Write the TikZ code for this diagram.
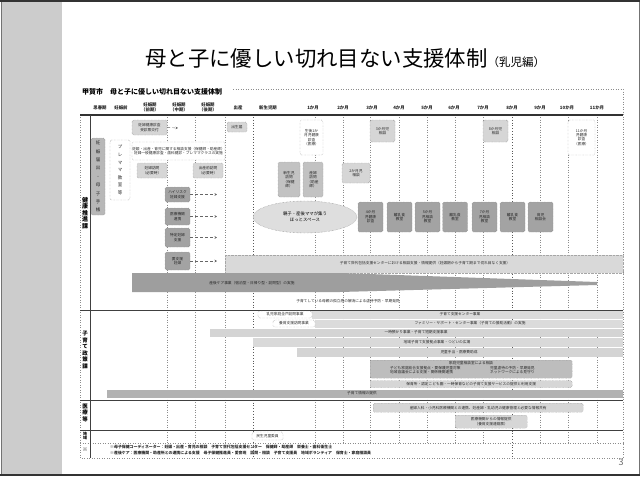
\documentclass[tikz,border=0pt]{standalone}
\usepackage{fontspec}
\setmainfont{Noto Sans CJK JP}
\usetikzlibrary{arrows.meta,shapes.geometric}
\newcommand\tf{\fontsize{3.7}{4.4}\selectfont}
\newcommand\hf{\fontsize{4.4}{5.2}\selectfont\bfseries}
\tikzset{
  bx/.style={draw=black!50, densely dotted, rounded corners=1.5pt, fill=black!16, align=center, inner sep=0pt, font=\tf, text=black!85},
  dk/.style={bx, fill=black!36},
  lt/.style={bx, fill=white},
  vgrid/.style={draw=black!45, dotted, line width=0.5pt},
  vgridd/.style={draw=black!65, dotted, line width=0.8pt},
  rowline/.style={draw=black!75, line width=0.9pt},
  hd/.style={font=\hf, align=center, inner sep=0pt, text=black!85},
  rl/.style={font=\fontsize{6}{6.6}\selectfont\bfseries, align=center, inner sep=0pt},
  tx/.style={font=\tf, inner sep=0pt, text=black!85},
  arr/.style={draw=black!60, densely dashed, line width=0.4pt, -{Stealth[length=2.5pt,width=2.5pt]}}
}
\begin{document}
\begin{tikzpicture}[x=1pt,y=-1pt]
\useasboundingbox (0,0) rectangle (640,477);
% slide
\fill[white] (0,0) rectangle (640,477);
\fill[black!20] (2,2) rectangle (62,474);
\draw[black!55, line width=0.6pt] (1,1) rectangle (639,475);
\draw[black!80, line width=1.4pt] (0,1) -- (640,1);
\draw[black!80, line width=1.6pt] (0,475) -- (640,475);
% title
\node[anchor=base west, inner sep=0pt] (title) at (145,66)
  {\fontsize{21.4}{24}\selectfont 母と子に優しい切れ目ない支援体制\fontsize{11.5}{13}\selectfont （乳児編）};
\node[font=\fontsize{9}{10}\selectfont, text=black!60] (pg) at (621,462) {3};
% chart frame
\node[anchor=west, font=\fontsize{7}{8}\selectfont\bfseries, inner sep=0pt] (ct) at (82,92) {甲賀市　母と子に優しい切れ目ない支援体制};
\draw[vgrid] (233,89) -- (623,89) -- (623,458) -- (80,458) -- (80,113);
% vertical grid
\foreach \x in {167,195,225,315,343,370,399,427,455,483,540,568,597}
  \draw[vgrid] (\x,117) -- (\x,443);
\foreach \x in {253,512}
  \draw[vgridd] (\x,117) -- (\x,458);
% headers
\node[hd] (h1) at (100,108) {思春期};
\node[hd] (h2) at (121,108) {妊娠前};
\node[hd] (h3) at (150,107) {妊娠期\\（前期）};
\node[hd] (h4) at (179,107) {妊娠期\\（中期）};
\node[hd] (h5) at (208,107) {妊娠期\\（後期）};
\node[hd] (h6) at (238,108) {出産};
\node[hd] (h7) at (268,108) {新生児期};
\node[hd] (m1) at (313,108) {1か月};
\node[hd] (m2) at (343,108) {2か月};
\node[hd] (m3) at (372,108) {3か月};
\node[hd] (m4) at (399,108) {4か月};
\node[hd] (m5) at (427,108) {5か月};
\node[hd] (m6) at (454,108) {6か月};
\node[hd] (m7) at (483,108) {7か月};
\node[hd] (m8) at (512,108) {8か月};
\node[hd] (m9) at (540,108) {9か月};
\node[hd] (m10) at (567,108) {10か月};
\node[hd] (m11) at (597,108) {11か月};
% row lines
\draw[draw=black!80, line width=1.3pt] (80,115) -- (623,115);
\draw[rowline] (80,310) -- (623,310);
\draw[rowline] (80,400) -- (623,400);
\draw[rowline] (80,430) -- (623,430);
\draw[vgrid] (80,443) -- (623,443);
\draw[draw=black!75, line width=1pt] (90,115) -- (90,458);
% row labels
\node[rl] (r1) at (85,213) {健\\康\\推\\進\\課};
\node[rl, font=\fontsize{5.5}{6.6}\selectfont\bfseries] (r2) at (85,350) {子\\育\\て\\政\\策\\課};
\node[rl, font=\fontsize{5.5}{6.2}\selectfont\bfseries] (r3) at (85,413) {医\\療\\等};
\node[rl, font=\fontsize{4}{4.2}\selectfont\bfseries] (r4) at (85,436) {地\\域};
\node[rl, font=\fontsize{5}{6}\selectfont\bfseries] (r5) at (85,450) {※};
% ---------------- row 1
\node[bx, fill=black!28, minimum width=14pt, minimum height=77pt, font=\fontsize{4.5}{8.4}\selectfont] (A) at (98,176.5) {妊\\娠\\届\\出\\・\\母\\子\\手\\帳};
\node[lt, minimum width=20pt, minimum height=60pt, font=\fontsize{4.5}{7.6}\selectfont] (B) at (120,170) {プ\\レ\\マ\\マ\\教\\室\\等};
\node[bx, minimum width=35pt, minimum height=15pt] (C) at (149.5,127.5) {妊婦健康診査\\受診票交付};
\coordinate (Ce) at (178,128);
\draw[arr] (C.east) -- (Ce);
\node[lt, minimum width=93pt, minimum height=18pt] (D) at (178.5,151) {妊娠・出産・育児に関する相談支援（保健師・助産師）\\妊婦一般健康診査・歯科健診・プレママクラスの実施};
\node[bx, minimum width=30pt, minimum height=15pt] (E) at (152,170.5) {妊婦訪問\\（必要時）};
\node[bx, minimum width=30pt, minimum height=15pt] (F) at (208,170.5) {出産前訪問\\（必要時）};
\node[bx, minimum width=20pt, minimum height=10pt] (G) at (237,127) {出生届};
\node[dk, minimum width=25pt, minimum height=15pt] (H1) at (177.5,194.5) {ハイリスク\\妊婦支援};
\node[dk, minimum width=25pt, minimum height=17pt] (H2) at (177.5,216.5) {医療機関\\連携};
\node[dk, minimum width=25pt, minimum height=19pt] (H3) at (177.5,237.5) {特定妊婦\\支援};
\node[dk, minimum width=25pt, minimum height=18pt] (H4) at (177.5,261) {要支援\\妊婦};
\foreach \n/\y in {1/194.5,2/216.5,3/237.5,4/261} {
  \coordinate (He\n) at (217,\y);
  \draw[arr] (H\n.east) -- (He\n);
}
\node[lt, minimum width=23pt, minimum height=35pt] (I) at (311.5,137.5) {生後1か\\月児健康\\診査\\（医療）};
\node[bx, fill=black!24, minimum width=22pt, minimum height=35pt] (J) at (289,179.5) {新生児\\訪問\\（保健\\師）};
\node[bx, fill=black!24, minimum width=20pt, minimum height=35pt] (K) at (313,179.5) {産婦\\訪問\\（助産\\師）};
\node[bx, minimum width=28pt, minimum height=20pt] (L) at (356,173) {2か月児\\相談};
\node[ellipse, draw=black!50, densely dotted, fill=black!13, minimum width=104pt, minimum height=32pt, inner sep=0pt, align=center, font=\fontsize{4.4}{6}\selectfont] (EL) at (305,217) {親子・産後ママが集う\\ほっとスペース};
\node[dk, minimum width=25pt, minimum height=30pt] (Q1) at (370.5,217) {4か月\\児健康\\診査};
\node[dk, minimum width=25pt, minimum height=30pt] (Q2) at (399.5,217) {離乳食\\教室};
\node[dk, minimum width=25pt, minimum height=30pt] (Q3) at (427.5,217) {5か月\\児相談\\教室};
\node[dk, minimum width=25pt, minimum height=30pt] (Q4) at (455,217) {離乳食\\教室};
\node[dk, minimum width=25pt, minimum height=30pt] (Q5) at (484.5,217) {7か月\\児相談\\教室};
\node[dk, minimum width=25pt, minimum height=30pt] (Q6) at (512.5,217) {離乳食\\教室};
\node[dk, minimum width=25pt, minimum height=30pt] (Q7) at (540.5,217) {育児\\相談会};
\node[bx, minimum width=25pt, minimum height=22pt] (M) at (382.5,131) {3か月児\\相談};
\node[bx, minimum width=25pt, minimum height=22pt] (N) at (495.5,131) {8か月児\\相談};
\node[lt, minimum width=27pt, minimum height=35pt] (O) at (581.5,137.5) {11か月\\児健康\\診査\\（医療）};
% support bars
\fill[black!15] (225,255) rectangle (623,273);
\draw[black!35, densely dotted] (225,255) rectangle (623,273);
\node[tx] (P) at (425,263) {子育て世代包括支援センターにおける相談支援・情報提供（妊娠期から子育て期まで切れ目なく支援）};
\fill[black!38] (132,273) -- (340,273) -- (597,282) -- (597,285) -- (340,292) -- (132,292) -- cycle;
\node[tx] (Qt) at (252,283) {産後ケア事業（宿泊型・日帰り型・訪問型）の実施};
\node[tx] (R) at (348,301) {子育てしている母親の孤立感の解消による虐待予防・早期発見};
% ---------------- row 2
\fill[black!14] (312,311) rectangle (623,319);
\node[lt, minimum width=54pt, minimum height=7pt] (S1) at (285,314.5) {乳児家庭全戸訪問事業};
\node[tx] (S1t) at (460,314.5) {子育て支援センター事業};
\fill[black!14] (315,320) rectangle (623,327.5);
\node[lt, minimum width=42pt, minimum height=7pt] (S2) at (294,323.5) {養育支援訪問事業};
\node[tx] (S2t) at (470,323.5) {ファミリー・サポート・センター事業（子育ての援助活動）の実施};
\fill[black!17] (210,328.5) rectangle (623,337);
\node[tx] (S3t) at (416,332.5) {一時預かり事業・子育て短期支援事業};
\fill[black!15] (253,338) rectangle (623,346.5);
\node[tx] (S4t) at (437,342.5) {地域子育て支援拠点事業・つどいの広場};
\fill[black!17] (297,348) rectangle (623,357);
\node[tx] (S5t) at (459,352.5) {児童手当・医療費助成};
\node[bx, fill=black!26, minimum width=202pt, minimum height=18pt, anchor=north west] (T) at (370,360) {};
\node[tx] (Tt) at (471,363.5) {家庭児童相談室による相談};
\node[tx, anchor=west, align=left] (Tl) at (390,370) {子ども家庭総合支援拠点・要保護児童対策\\地域協議会による支援・関係機関連携};
\node[tx, anchor=west, align=left] (Tr) at (490,370) {児童虐待の予防・早期発見\\ネットワークによる見守り};
\node[bx, minimum width=202pt, minimum height=7pt, anchor=north west] (U) at (370,380.5) {保育所・認定こども園・一時保育などの子育て支援サービスの提供と利用支援};
\fill[black!30] (107,389.5) rectangle (623,398);
\node[tx] (Vt) at (362,393.5) {子育て情報の提供};
% ---------------- row 3
\node[bx, minimum width=210pt, minimum height=9pt, anchor=north west] (W) at (373,403) {産婦人科・小児科医療機関との連携、妊産婦・乳幼児の健康管理と必要な情報共有};
\node[bx, minimum width=72pt, minimum height=13pt, anchor=north west] (X) at (455,415) {医療機関からの情報提供\\（養育支援連絡票）};
% ---------------- row 4
\node[lt, minimum width=31pt, minimum height=8pt] (Y) at (267.5,436) {民生児童委員};
% ---------------- row 5
\node[tx, anchor=west, font=\fontsize{3.9}{4.5}\selectfont\bfseries] (Z1) at (110,447) {※母子保健コーディネーター：妊娠・出産・育児の相談　子育て世代包括支援センター　保健師・助産師　栄養士・歯科衛生士};
\node[tx, anchor=west, font=\fontsize{3.9}{4.5}\selectfont\bfseries] (Z2) at (110,453) {※産後ケア：医療機関・助産所との連携による支援　母子保健推進員・愛育班　訪問・相談　子育て支援員　地域ボランティア　保育士・家庭相談員};
\end{tikzpicture}
\end{document}
